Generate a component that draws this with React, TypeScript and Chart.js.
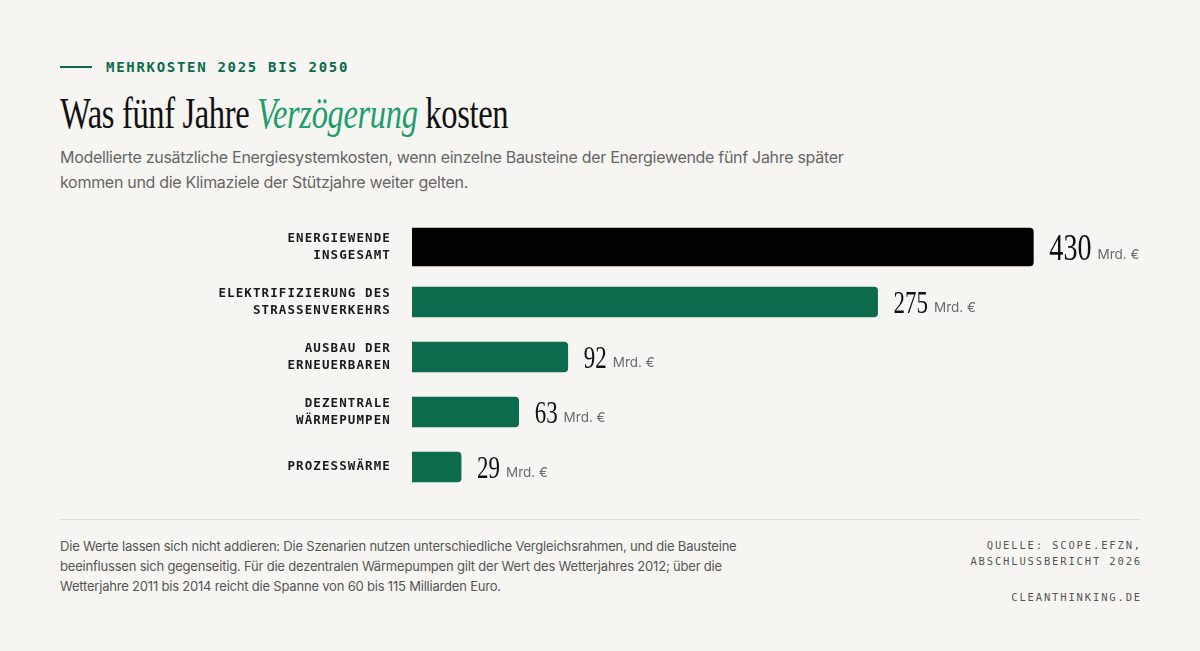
import React, { useEffect, useRef } from 'react';
import Chart from 'chart.js/auto';

// Werte in Mrd. € (Mehrkosten 2025 bis 2050)
const categories: string[][] = [
  ['ENERGIEWENDE', 'INSGESAMT'],
  ['ELEKTRIFIZIERUNG DES', 'STRASSENVERKEHRS'],
  ['AUSBAU DER', 'ERNEUERBAREN'],
  ['DEZENTRALE', 'WÄRMEPUMPEN'],
  ['PROZESSWÄRME'],
];
const values = [430, 275, 92, 63, 29];
const unitLabel = 'Mrd. €';
// der Gesamtbalken wird gekürzt, damit sein Label noch daneben passt
const totalBarCap = 367;

const BG = '#f6f5f1';
const GREEN = '#0b6b4c';
const MONO = '"DejaVu Sans Mono", "Liberation Mono", monospace';
const SERIF = '"Liberation Serif", "DejaVu Serif", serif';
const SANS = 'Inter, "Noto Sans", sans-serif';

const labelPlugin = {
  id: 'barLabels',
  afterDatasetsDraw(chart: any) {
    const { ctx, chartArea } = chart;
    const yScale = chart.scales.y;
    ctx.save();

    // Kategorien links neben den Balken
    ctx.font = `bold 12.5px ${MONO}`;
    ctx.fillStyle = '#1a1a1a';
    ctx.textAlign = 'right';
    ctx.textBaseline = 'middle';
    (ctx as any).letterSpacing = '1.1px';
    categories.forEach((lines, i) => {
      const y = yScale.getPixelForValue(i);
      const lh = 17.5;
      const top = y - ((lines.length - 1) * lh) / 2;
      lines.forEach((line, j) => {
        ctx.fillText(line, chartArea.left - 21, top + j * lh);
      });
    });
    (ctx as any).letterSpacing = '0px';

    // Werte rechts der Balken
    ctx.textAlign = 'left';
    ctx.textBaseline = 'alphabetic';
    chart.data.datasets.forEach((ds: any, di: number) => {
      const meta = chart.getDatasetMeta(di);
      meta.data.forEach((bar: any, i: number) => {
        if (ds.data[i] == null) return;
        const big = i === 0;
        const size = big ? 38 : 31;
        const sx = 0.74;
        const text = String(values[i]);
        ctx.font = `${size}px ${SERIF}`;
        const m = ctx.measureText(text);
        const baseline = bar.y + m.actualBoundingBoxAscent / 2;
        const x0 = bar.x + 16;
        ctx.fillStyle = '#111';
        ctx.save();
        ctx.translate(x0, baseline);
        ctx.scale(sx, 1);
        ctx.fillText(text, 0, 0);
        ctx.restore();
        ctx.font = `13.5px ${SANS}`;
        ctx.fillStyle = '#6b6b6b';
        ctx.fillText(unitLabel, x0 + m.width * sx + 6, baseline - 1);
      });
    });
    ctx.restore();
  },
};

const BarChart: React.FC = () => {
  const canvasRef = useRef<HTMLCanvasElement>(null);
  const chartRef = useRef<Chart | null>(null);

  useEffect(() => {
    if (!canvasRef.current) return;
    if (chartRef.current) chartRef.current.destroy();

    chartRef.current = new Chart(canvasRef.current, {
      type: 'bar',
      data: {
        labels: categories.map((c) => c.join(' ')),
        datasets: [
          {
            data: values.map((v, i) => (i === 0 ? Math.min(v, totalBarCap) : null)),
            backgroundColor: '#030303',
            barThickness: 38,
            borderRadius: 4,
            grouped: false,
          },
          {
            data: values.map((v, i) => (i === 0 ? null : v)),
            backgroundColor: GREEN,
            barThickness: 30,
            borderRadius: 4,
            grouped: false,
          },
        ],
      },
      options: {
        indexAxis: 'y',
        animation: false,
        responsive: true,
        maintainAspectRatio: false,
        layout: { padding: { left: 352, top: 9.5, bottom: 10.5, right: 0 } },
        scales: {
          x: { display: false, min: 0, max: 430 },
          y: { display: false },
        },
        plugins: {
          legend: { display: false },
          tooltip: { enabled: false },
        },
      },
      plugins: [labelPlugin],
    });

    return () => {
      if (chartRef.current) {
        chartRef.current.destroy();
        chartRef.current = null;
      }
    };
  }, []);

  return (
    <div style={{ position: 'absolute', left: 60, top: 210, width: 1080, height: 295 }}>
      <canvas ref={canvasRef}></canvas>
    </div>
  );
};

const App: React.FC = () => {
  useEffect(() => {
    document.body.style.margin = '0';
    document.body.style.background = BG;
  }, []);

  return (
    <div style={{ position: 'relative', width: 1200, height: 651, background: BG, overflow: 'hidden' }}>
      <div style={{ position: 'absolute', left: 60, top: 66, width: 32, height: 2, background: GREEN }} />
      <div
        style={{
          position: 'absolute', left: 106, top: 60, font: `bold 14px ${MONO}`, lineHeight: '14px',
          letterSpacing: '1.7px', color: GREEN,
        }}
      >
        MEHRKOSTEN 2025 BIS 2050
      </div>
      <div
        style={{
          position: 'absolute', left: 60, top: 92, font: `44px ${SERIF}`, lineHeight: '44px',
          color: '#111', whiteSpace: 'nowrap', transform: 'scaleX(0.74)', transformOrigin: 'left top',
          letterSpacing: '-0.5px',
        }}
      >
        Was fünf Jahre <i style={{ color: '#1f9d6c' }}>Verzögerung</i> kosten
      </div>
      <div
        style={{
          position: 'absolute', left: 60, top: 144.5, font: `16px ${SANS}`, lineHeight: '25px',
          letterSpacing: '-0.3px', color: '#666', whiteSpace: 'nowrap',
        }}
      >
        Modellierte zusätzliche Energiesystemkosten, wenn einzelne Bausteine der Energiewende fünf Jahre später
        <br />
        kommen und die Klimaziele der Stützjahre weiter gelten.
      </div>

      <BarChart />

      <div style={{ position: 'absolute', left: 60, top: 519, width: 1080, height: 1, background: '#e2e0da' }} />
      <div
        style={{
          position: 'absolute', left: 60, top: 536, font: `13px ${SANS}`, lineHeight: '20px',
          letterSpacing: '-0.2px', color: '#555', whiteSpace: 'nowrap',
        }}
      >
        Die Werte lassen sich nicht addieren: Die Szenarien nutzen unterschiedliche Vergleichsrahmen, und die Bausteine
        <br />
        beeinflussen sich gegenseitig. Für die dezentralen Wärmepumpen gilt der Wert des Wetterjahres 2012; über die
        <br />
        Wetterjahre 2011 bis 2014 reicht die Spanne von 60 bis 115 Milliarden Euro.
      </div>
      <div
        style={{
          position: 'absolute', right: 58, top: 537, font: `10.5px ${MONO}`, lineHeight: '16.3px',
          letterSpacing: '1.85px', color: '#555', textAlign: 'right', whiteSpace: 'nowrap',
        }}
      >
        QUELLE: SCOPE.EFZN,
        <br />
        ABSCHLUSSBERICHT 2026
      </div>
      <div
        style={{
          position: 'absolute', right: 58, top: 589, font: `10.5px ${MONO}`, lineHeight: '16px',
          letterSpacing: '1.85px', color: '#555', textAlign: 'right', whiteSpace: 'nowrap',
        }}
      >
        CLEANTHINKING.DE
      </div>
    </div>
  );
};

export default App;
